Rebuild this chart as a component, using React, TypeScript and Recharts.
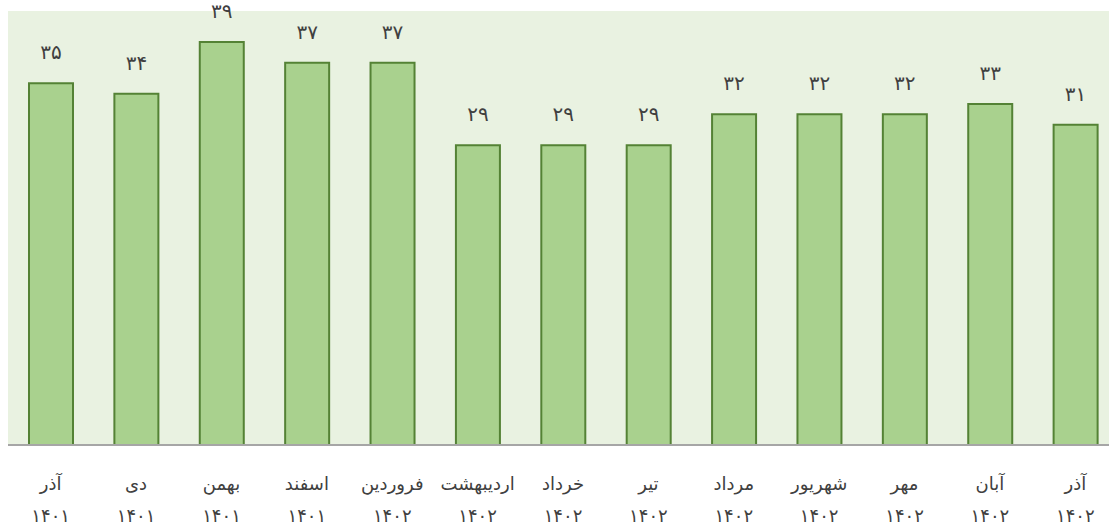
import React from 'react';
import { BarChart, Bar, XAxis, YAxis, CartesianGrid, LabelList } from 'recharts';

const months = ['آذر', 'دی', 'بهمن', 'اسفند', 'فروردین', 'اردیبهشت', 'خرداد', 'تیر', 'مرداد', 'شهریور', 'مهر', 'آبان', 'آذر'];
const years = ['1401', '1401', '1401', '1401', '1402', '1402', '1402', '1402', '1402', '1402', '1402', '1402', '1402'];
const values = [35, 34, 39, 37, 37, 29, 29, 29, 32, 32, 32, 33, 31];

const toFa = (s: string | number) => String(s).replace(/[0-9]/g, (d) => '۰۱۲۳۴۵۶۷۸۹'[+d]);

const data = months.map((m, i) => ({ key: i, month: m, year: years[i], value: values[i] }));

const FONT = '"DejaVu Sans", sans-serif';

const Tick = (props: any) => {
  const { x, y, payload } = props;
  const row = data[payload.value];
  return (
    <g transform={`translate(${x},${y})`}>
      <text x={0} y={32} textAnchor="middle" dominantBaseline="middle" fill="#404040" fontSize={18} fontFamily={FONT}>
        {row.month}
      </text>
      <text x={0} y={64} textAnchor="middle" dominantBaseline="middle" fill="#404040" fontSize={18} fontFamily={FONT}>
        {toFa(row.year)}
      </text>
    </g>
  );
};

export default function App() {
  return (
    <div style={{ position: 'absolute', left: 0, top: 0, width: 1109, height: 529, overflow: 'hidden' }}>
      <BarChart width={1118} height={529} data={data} margin={{ top: 11, right: 0, bottom: 0, left: 8 }}>
        <CartesianGrid horizontal={false} vertical={false} fill="#e9f2e1" />
        <XAxis
          dataKey="key"
          height={84}
          tick={<Tick />}
          tickLine={false}
          axisLine={{ stroke: '#a6a6a6', strokeWidth: 2 }}
          interval={0}
        />
        <YAxis hide domain={[0, 42]} />
        <Bar dataKey="value" barSize={44} fill="#a9d18e" stroke="#548235" strokeWidth={2} isAnimationActive={false}>
          <LabelList
            dataKey="value"
            position="top"
            offset={24}
            formatter={(v: any) => toFa(v)}
            style={{ fill: '#404040', fontSize: 20, fontFamily: FONT }}
          />
        </Bar>
      </BarChart>
    </div>
  );
}
